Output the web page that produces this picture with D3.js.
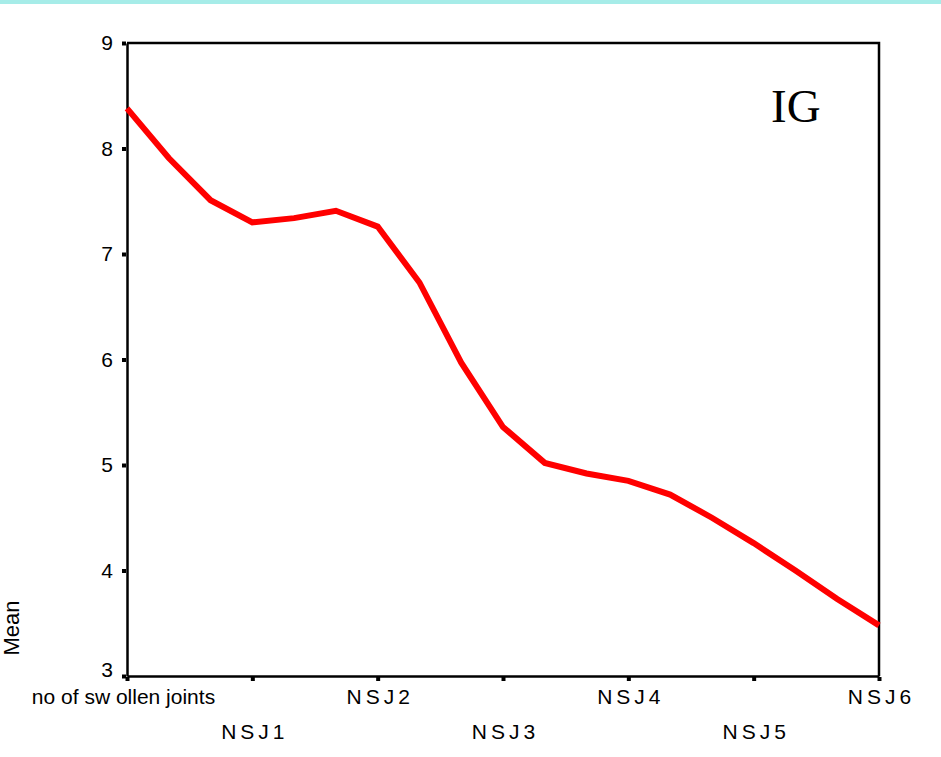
<!DOCTYPE html>
<html>
<head>
<meta charset="utf-8">
<script src="https://cdn.jsdelivr.net/npm/d3@7"></script>
<style>
  html, body { margin: 0; padding: 0; background: #ffffff; }
  svg { display: block; }
  .axis text { font-family: Arial, "Liberation Sans", sans-serif; font-size: 21px; fill: #000; }
  .axis path { stroke: #000; stroke-width: 2.5px; }
  .axis line { stroke: #000; stroke-width: 4px; }
</style>
</head>
<body>
<script>
// Category labels along the horizontal axis
const categories = ["no of sw ollen joints", "NSJ1", "NSJ2", "NSJ3", "NSJ4", "NSJ5", "NSJ6"];
// Mean trace, sampled three times per category interval
const meanTrace = [8.38, 7.91, 7.51, 7.30, 7.34, 7.41, 7.26,
                   6.73, 5.97, 5.36, 5.02, 4.92, 4.85,
                   4.72, 4.50, 4.26, 4.00, 3.73, 3.48];
const samplesPerCategory = 3;
const yTicks = [3, 4, 5, 6, 7, 8, 9];
const yTitle = "Mean";
const panelLabel = "IG";

const W = 941, H = 757;
const margin = { left: 127, right: W - 879, top: 43, bottom: H - 676 };
const iw = W - margin.left - margin.right;
const ih = H - margin.top - margin.bottom;

const svg = d3.select("body").append("svg").attr("width", W).attr("height", H);

// Thin cyan band across the top of the page
svg.append("rect").attr("x", 0).attr("y", 0).attr("width", W).attr("height", 4)
  .attr("fill", "#a6ece8");

const g = svg.append("g").attr("transform", `translate(${margin.left},${margin.top})`);

const x = d3.scaleLinear().domain([0, categories.length - 1]).range([0, iw]);
const y = d3.scaleLinear().domain([3, 9]).range([ih, 0]);

// Frame: top and right edges
g.append("path")
  .attr("d", `M0,0H${iw}V${ih}`)
  .attr("fill", "none").attr("stroke", "#000").attr("stroke-width", 2.5);

// Y axis
const yAxis = g.append("g").attr("class", "axis")
  .call(d3.axisLeft(y).tickValues(yTicks).tickFormat(d3.format("d")).tickSize(4).tickSizeOuter(0).tickPadding(10));
yAxis.selectAll(".tick line").attr("transform", "translate(-1,0)");
// lift the bottom value clear of the first category label
yAxis.selectAll(".tick text").filter(d => d === 3).attr("dy", "0.0em");

// X axis with staggered labels
const xAxis = g.append("g").attr("class", "axis").attr("transform", `translate(0,${ih})`)
  .call(d3.axisBottom(x).tickValues(d3.range(categories.length))
    .tickFormat(i => categories[i]).tickSize(4).tickSizeOuter(0).tickPadding(8));
xAxis.selectAll(".tick line").attr("transform", "translate(0,1)");
xAxis.selectAll(".tick text")
  .attr("dy", (d) => d % 2 === 1 ? "2.45em" : "0.78em")
  .attr("letter-spacing", (d) => d === 0 ? 0 : 4)
  .attr("dx", (d) => d === 0 ? -4 : 2);

// Y axis title
svg.append("text")
  .attr("transform", `translate(19,628) rotate(-90)`)
  .attr("text-anchor", "middle")
  .attr("font-family", "Arial, 'Liberation Sans', sans-serif")
  .attr("font-size", 22)
  .text(yTitle);

// Mean line
const line = d3.line()
  .x((d, i) => x(i / samplesPerCategory))
  .y(d => y(d));
g.append("path")
  .datum(meanTrace)
  .attr("d", line)
  .attr("fill", "none")
  .attr("stroke", "#ff0000")
  .attr("stroke-width", 6)
  .attr("stroke-linejoin", "miter");

// Panel label
g.append("text")
  .attr("x", 771 - margin.left)
  .attr("y", 122 - margin.top)
  .attr("font-family", "'Liberation Serif', 'Times New Roman', serif")
  .attr("font-size", 47)
  .text(panelLabel);
</script>
</body>
</html>
